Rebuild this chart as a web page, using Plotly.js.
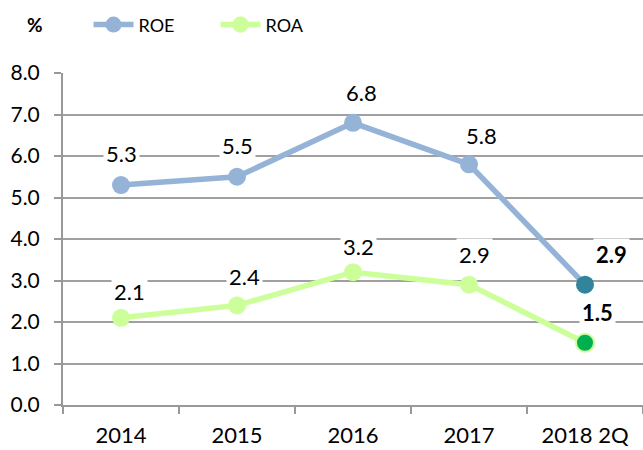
<!DOCTYPE html>
<html><head><meta charset="utf-8">
<script src="https://cdn.plot.ly/plotly-3.0.1.min.js"></script>
<style>html,body{margin:0;padding:0;background:#fff}#chart{width:643px;height:450px}</style>
</head><body><div id="chart"></div>
<script>
const categories = ["2014", "2015", "2016", "2017", "2018 2Q"];
const roe = [5.3, 5.5, 6.8, 5.8, 2.9];
const roa = [2.1, 2.4, 3.2, 2.9, 1.5];
const yTickVals = [0, 1, 2, 3, 4, 5, 6, 7, 8];
const yTickText = ["0.0", "1.0", "2.0", "3.0", "4.0", "5.0", "6.0", "7.0", "8.0"];

// label offsets (px) [xshift, yshift]
const roeShift = [[0, 32], [0, 31], [8, 30], [12, 29], [26, 30]];
const roaShift = [[8, 26], [7, 29], [5, 26], [5, 30], [12, 30]];

const FONT = "Lato, 'Open Sans', sans-serif";
const roeColor = "#95B3D7", roaColor = "#CCFF99";
const n = categories.length;

const traces = [
  {x: categories, y: roe, name: "ROE", type: "scatter", mode: "lines+markers",
   line: {color: roeColor, width: 5.5},
   marker: {size: 18, color: roe.map((v, i) => i === n - 1 ? "#31849B" : roeColor),
            line: {width: 0}}},
  {x: categories, y: roa, name: "ROA", type: "scatter", mode: "lines+markers",
   line: {color: roaColor, width: 5.5},
   marker: {size: 18, color: roa.map((v, i) => i === n - 1 ? "#00B050" : roaColor),
            line: {width: roa.map((v, i) => i === n - 1 ? 2 : 0), color: roaColor}}}
];

const annotations = [];
function addLabels(vals, shifts) {
  vals.forEach((v, i) => {
    const last = i === n - 1;
    annotations.push({
      x: i, y: v, xref: "x", yref: "y", showarrow: false,
      text: last ? "<b>" + v.toFixed(1) + "</b>" : v.toFixed(1),
      xshift: shifts[i][0], yshift: shifts[i][1],
      font: {family: FONT, size: 22, color: "#000"},
      bgcolor: "#fff", borderpad: 2
    });
  });
}
addLabels(roe, roeShift);
addLabels(roa, roaShift);
annotations.push({text: "<b>%</b>", xref: "paper", yref: "paper", x: -0.048, y: 1.145,
  xanchor: "center", yanchor: "middle", showarrow: false,
  font: {family: FONT, size: 19, color: "#000"}});

const layout = {
  width: 643, height: 450,
  margin: {l: 63, r: 0, t: 73, b: 45},
  paper_bgcolor: "#fff", plot_bgcolor: "#fff",
  font: {family: FONT, color: "#000"},
  showlegend: true,
  legend: {orientation: "h", x: 0.044, y: 1.145, xanchor: "left", yanchor: "middle",
           font: {family: FONT, size: 18, color: "#000"}, itemwidth: 40,
           entrywidth: 72, entrywidthmode: "pixels",
           bgcolor: "rgba(0,0,0,0)"},
  xaxis: {type: "category", range: [-0.5, 4.5], showgrid: false, zeroline: false,
          showline: true, linecolor: "#999", linewidth: 2,
          ticks: "outside", tickson: "boundaries", ticklen: 7, tickcolor: "#999", tickwidth: 2,
          tickfont: {family: FONT, size: 22, color: "#000"}, ticklabelstandoff: 10},
  yaxis: {range: [0, 8], tickvals: yTickVals, ticktext: yTickText,
          showgrid: true, gridcolor: "#A0A0A0", gridwidth: 2, zeroline: false,
          showline: true, linecolor: "#999", linewidth: 2,
          ticks: "outside", ticklen: 7, tickcolor: "#999", tickwidth: 2,
          tickfont: {family: FONT, size: 21, color: "#000"}, ticklabelstandoff: 10},
  annotations: annotations
};

Plotly.newPlot("chart", traces, layout, {displayModeBar: false, staticPlot: true});
</script></body></html>
